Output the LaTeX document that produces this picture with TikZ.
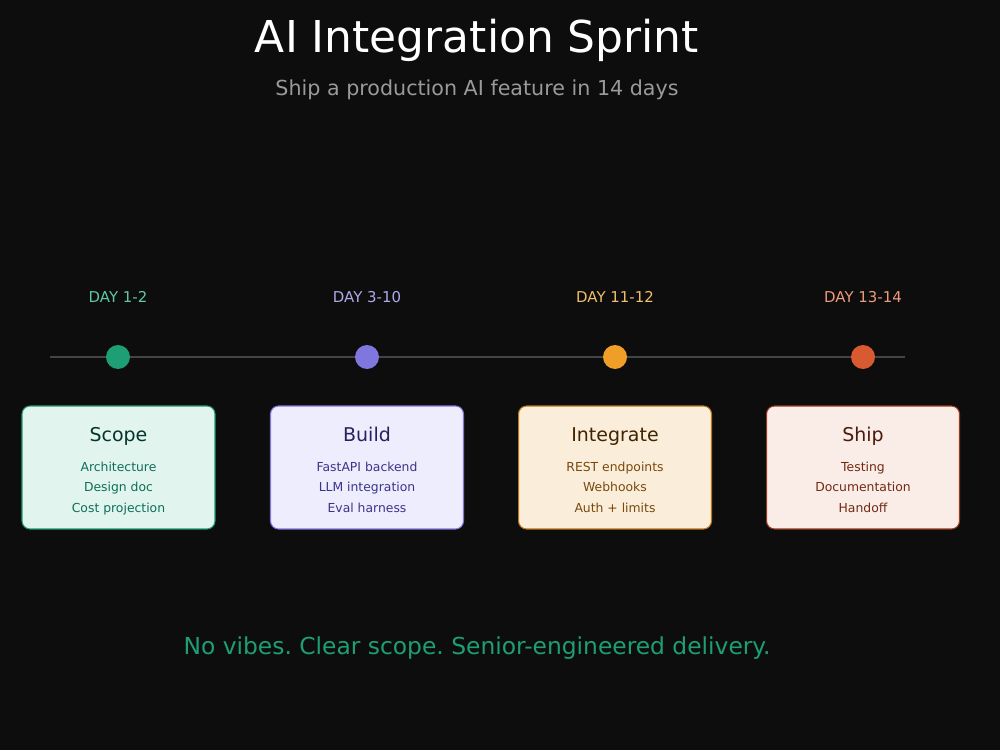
\documentclass[tikz,border=0pt]{standalone}
\usepackage{fontspec}
\setmainfont{DejaVu Sans}
\usepackage{tikz}
\frenchspacing

\definecolor{bgdark}{HTML}{0D0D0D}
\definecolor{trackgray}{HTML}{444444}
\definecolor{subgray}{HTML}{9A9A9A}
% green
\definecolor{grnDot}{HTML}{1D9E75}
\definecolor{grnDay}{HTML}{5DCAA5}
\definecolor{grnFill}{HTML}{E1F5EE}
\definecolor{grnHead}{HTML}{04342C}
\definecolor{grnItem}{HTML}{0F6E56}
% purple
\definecolor{purDot}{HTML}{7F77DD}
\definecolor{purDay}{HTML}{AFA9EC}
\definecolor{purFill}{HTML}{EEEDFE}
\definecolor{purHead}{HTML}{26215C}
\definecolor{purItem}{HTML}{3C3489}
% amber
\definecolor{ambDot}{HTML}{EF9F27}
\definecolor{ambDay}{HTML}{F2BE6A}
\definecolor{ambFill}{HTML}{FAEEDA}
\definecolor{ambHead}{HTML}{412402}
\definecolor{ambItem}{HTML}{7A480C}
\definecolor{ambEdge}{HTML}{BA7517}
% coral
\definecolor{corDot}{HTML}{D85A30}
\definecolor{corDay}{HTML}{F0997B}
\definecolor{corFill}{HTML}{FAECE7}
\definecolor{corHead}{HTML}{4A1B0C}
\definecolor{corItem}{HTML}{712B13}
\definecolor{corEdge}{HTML}{993C1D}

\tikzset{
  track/.style={draw=trackgray,line width=1.2pt},
  dot/.style={circle,inner sep=0pt,minimum size=0.48cm},
  daylabel/.style={anchor=base,font=\fontsize{8.5}{10}\selectfont},
  phasebox/.style={rounded corners=0.16cm,line width=0.6pt,minimum width=3.86cm,minimum height=2.46cm},
  phasehead/.style={anchor=base,font=\fontsize{10.8}{13}\selectfont},
  phaseitems/.style={anchor=base,align=center,font=\fontsize{7.05}{11.6}\selectfont}
}

\begin{document}
\begin{tikzpicture}[x=0.02cm,y=-0.02cm]
   \fill[bgdark] (0,0) rectangle (1000,750);

   \node[anchor=base,white,font=\fontsize{25}{30}\selectfont] (title) at (477,53) {AI Integration Sprint};
   \node[anchor=base,subgray,font=\fontsize{11.75}{14}\selectfont] (subtitle) at (477,95) {Ship a production AI feature in 14 days};

   \coordinate (trackL) at (50,357);
   \coordinate (trackR) at (905,357);
   \draw[track] (trackL) -- (trackR);

   \node[daylabel,grnDay] (day1) at (118,302.5) {DAY 1-2};
   \node[daylabel,purDay] (day2) at (367,302.5) {DAY 3-10};
   \node[daylabel,ambDay] (day3) at (615,302.5) {DAY 11-12};
   \node[daylabel,corDay] (day4) at (863,302.5) {DAY 13-14};

   \node[dot,fill=grnDot] (dot1) at (118,357) {};
   \node[dot,fill=purDot] (dot2) at (367,357) {};
   \node[dot,fill=ambDot] (dot3) at (615,357) {};
   \node[dot,fill=corDot] (dot4) at (863,357) {};

   \node[phasebox,fill=grnFill,draw=grnDot] (scope) at (118.5,467.5) {};
   \node[phasebox,fill=purFill,draw=purDot] (build) at (367,467.5) {};
   \node[phasebox,fill=ambFill,draw=ambEdge] (integrate) at (615,467.5) {};
   \node[phasebox,fill=corFill,draw=corEdge] (ship) at (863,467.5) {};

   \node[phasehead,grnHead] (scopeHead) at (118.5,441) {Scope};
   \node[phasehead,purHead] (buildHead) at (367,441) {Build};
   \node[phasehead,ambHead] (integrateHead) at (615,441) {Integrate};
   \node[phasehead,corHead] (shipHead) at (863,441) {Ship};

   % base of a multi-line node is its last line
   \node[phaseitems,grnItem] (scopeItems) at (118.5,512) {Architecture\\Design doc\\Cost projection};
   \node[phaseitems,purItem] (buildItems) at (367,512) {FastAPI backend\\LLM integration\\Eval harness};
   \node[phaseitems,ambItem] (integrateItems) at (615,512) {REST endpoints\\Webhooks\\Auth + limits};
   \node[phaseitems,corItem] (shipItems) at (863,512) {Testing\\Documentation\\Handoff};

   \node[anchor=base,grnDot,font=\fontsize{13.3}{15}\selectfont] (footer) at (477,654) {No vibes. Clear scope. Senior-engineered delivery.};
  \end{tikzpicture}
\end{document}
